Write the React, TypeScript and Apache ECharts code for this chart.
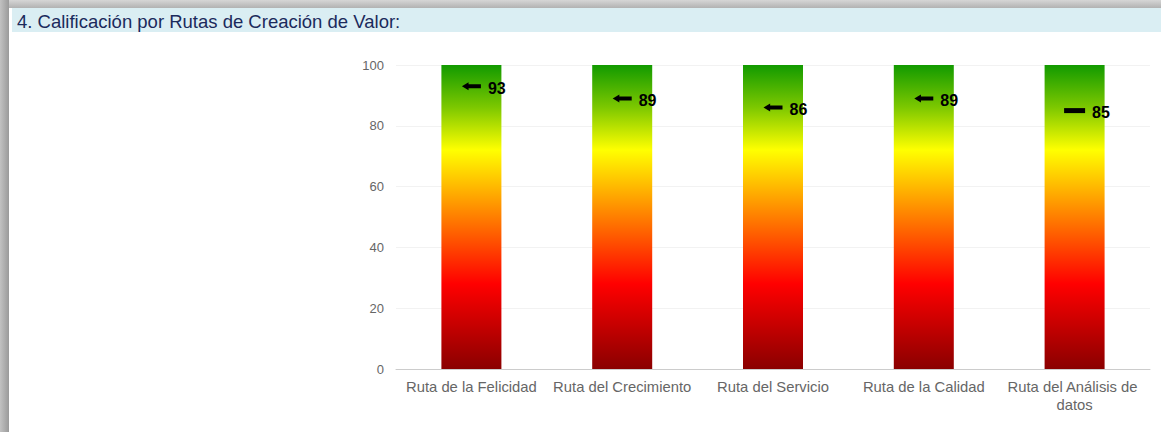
import React, { useEffect, useRef } from "react";
import * as echarts from "echarts";

const categories = [
  "Ruta de la Felicidad",
  "Ruta del Crecimiento",
  "Ruta del Servicio",
  "Ruta de la Calidad",
  "Ruta del Análisis de datos",
];
const barValues = [100, 100, 100, 100, 100];
const scores = [93, 89, 86, 89, 85];
const markerKinds = ["arrow", "arrow", "arrow", "arrow", "dash"];
const yTicks = [0, 20, 40, 60, 80, 100];
const titleText = "4. Calificación por Rutas de Creación de Valor:";

const ARROW = "path://M0,4 L7,0 L7,2 L20,2 L20,6 L7,6 L7,8 Z";

export default function App() {
  const ref = useRef<HTMLDivElement>(null);
  useEffect(() => {
    document.body.style.margin = "0";
    const chart = echarts.init(ref.current!, null, { renderer: "svg" });
    const font = "Arial, 'Liberation Sans', sans-serif";
    chart.setOption({
      animation: false,
      backgroundColor: "#ffffff",
      textStyle: { fontFamily: font },
      graphic: [
        {
          type: "rect",
          shape: { x: 0, y: 0, width: 1161, height: 8 },
          style: {
            fill: new echarts.graphic.LinearGradient(0, 0, 0, 1, [
              { offset: 0, color: "#d6d6d6" },
              { offset: 1, color: "#b2b2b2" },
            ]),
          },
          silent: true,
        },
        {
          type: "rect",
          shape: { x: 0, y: 0, width: 9, height: 432 },
          style: {
            fill: new echarts.graphic.LinearGradient(0, 0, 1, 0, [
              { offset: 0, color: "#c2c2c2" },
              { offset: 1, color: "#9a9a9a" },
            ]),
          },
          silent: true,
        },
        {
          type: "rect",
          shape: { x: 12, y: 8, width: 1149, height: 24 },
          style: { fill: "#daeef3" },
          silent: true,
        },
        {
          type: "text",
          x: 17,
          y: 21,
          style: {
            text: titleText,
            font: "18.5px Arial, 'Liberation Sans', sans-serif",
            fill: "#1b2a5c",
            verticalAlign: "middle",
          },
          silent: true,
        },
      ],
      grid: { left: 396, right: 11, top: 65, bottom: 63, containLabel: false },
      xAxis: {
        type: "category",
        data: categories,
        axisTick: { show: false },
        axisLine: { lineStyle: { color: "#cccccc" } },
        axisLabel: {
          color: "#666666",
          fontSize: 14.8,
          margin: 9,
          width: 150,
          overflow: "break",
          lineHeight: 18,
          interval: 0,
        },
      },
      yAxis: {
        type: "value",
        min: 0,
        max: 100,
        interval: 20,
        axisLine: { show: false },
        axisTick: { show: false },
        splitLine: { lineStyle: { color: "#f2f2f2" } },
        axisLabel: {
          color: "#666666",
          fontSize: 13,
          margin: 12,
          customValues: yTicks,
        },
      },
      series: [
        {
          type: "bar",
          data: barValues,
          barWidth: 60,
          itemStyle: {
            color: new echarts.graphic.LinearGradient(0, 0, 0, 1, [
              { offset: 0, color: "#129a00" },
              { offset: 0.14, color: "#7dc800" },
              { offset: 0.28, color: "#ffff00" },
              { offset: 0.48, color: "#ff8a00" },
              { offset: 0.72, color: "#ff0000" },
              { offset: 1, color: "#8a0000" },
            ]),
          },
          silent: true,
        },
        {
          type: "scatter",
          z: 5,
          data: scores.map((v, i) => ({
            value: [i, v],
            symbol: markerKinds[i] === "arrow" ? ARROW : "rect",
            symbolSize: markerKinds[i] === "arrow" ? [19, 8] : [21, 5],
          })),
          itemStyle: { color: "#000000", opacity: 1 },
          label: {
            show: true,
            position: "right",
            distance: 7,
            offset: [0, 2],
            color: "#000000",
            fontSize: 16,
            fontWeight: "bold",
            formatter: (p: any) => String(p.value[1]),
          },
          silent: true,
        },
      ],
    });
    return () => chart.dispose();
  }, []);
  return <div ref={ref} style={{ width: 1161, height: 432 }} />;
}
